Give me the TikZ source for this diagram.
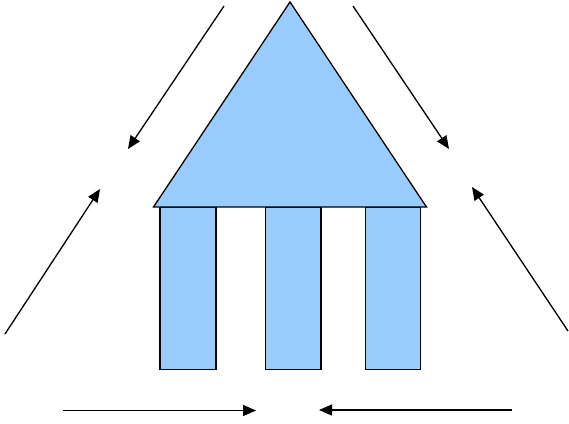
\documentclass[tikz,border=0pt]{standalone}
\usetikzlibrary{arrows.meta}
\definecolor{pillarblue}{HTML}{99CCFF}
\begin{document}
\begin{tikzpicture}[x=1pt,y=-1pt,
  part/.style={fill=pillarblue,draw=black,line width=1.3pt,line join=miter},
  flow/.style={draw=black,line width=1.3pt,-{Triangle[length=13pt,width=11pt]}}]
\useasboundingbox (0,0) rectangle (569,423);
% pillars
\draw[part] (160,207) rectangle (216,369.5);
\draw[part] (265.5,207) rectangle (321,369.5);
\draw[part] (365.5,207) rectangle (420.5,369.5);
% roof
\draw[part] (290,2) -- (426.5,207) -- (153.5,207) -- cycle;
% arrow end points
\coordinate (a1) at (224,6);   \coordinate (b1) at (128,149);
\coordinate (a2) at (353,6);   \coordinate (b2) at (449,149);
\coordinate (a3) at (5,334);   \coordinate (b3) at (100,189);
\coordinate (a4) at (568,331); \coordinate (b4) at (472,187);
\coordinate (a5) at (63,410.5);  \coordinate (b5) at (256,410.5);
\coordinate (a6) at (512,410); \coordinate (b6) at (319,410);
\draw[flow] (a1) -- (b1);
\draw[flow] (a2) -- (b2);
\draw[flow] (a3) -- (b3);
\draw[flow] (a4) -- (b4);
\draw[flow] (a5) -- (b5);
\draw[flow] (a6) -- (b6);
\end{tikzpicture}
\end{document}
